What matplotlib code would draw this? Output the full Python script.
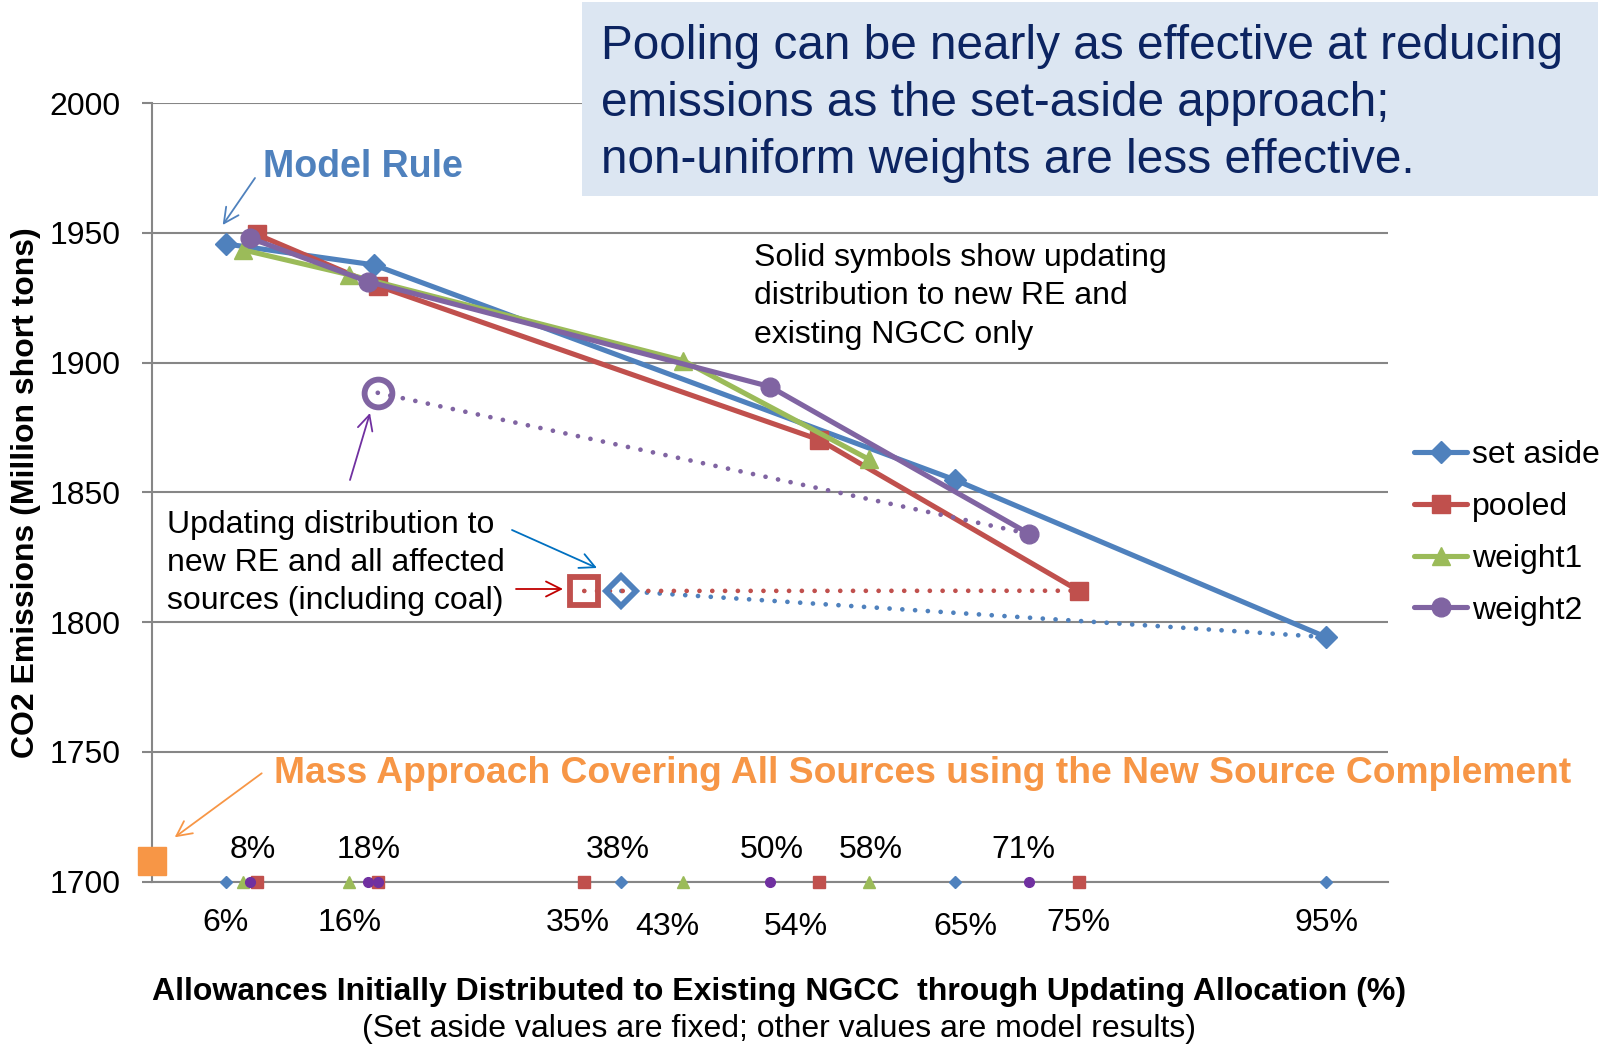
import matplotlib
matplotlib.use("Agg")
import matplotlib.pyplot as plt
import matplotlib.transforms as mtransforms
from matplotlib.patches import Rectangle

plt.rcParams["font.family"] = ["Liberation Sans", "DejaVu Sans"]

# allowances to existing NGCC (%) vs CO2 emissions (million short tons)
set_aside_x = [6, 18, 65, 95]
set_aside_y = [1945.8, 1937.7, 1854.8, 1794.2]
pooled_x = [8.5, 18.3, 54, 75]
pooled_y = [1949.5, 1929.6, 1870.3, 1812.1]
weight1_x = [7.4, 16, 43, 58]
weight1_y = [1943.5, 1933.9, 1900.8, 1862.8]
weight2_x = [8, 17.5, 50, 71]
weight2_y = [1948.0, 1931.3, 1890.8, 1834.0]

# updating to new RE and all affected sources (including coal)
set_aside_all_x, set_aside_all_y = 38, 1812.0
pooled_all_x, pooled_all_y = 35, 1812.0
weight2_all_x, weight2_all_y = 18.3, 1888.4

# mass approach covering all sources
mass_x, mass_y = 0, 1707.9

pct_top = [8, 18, 38, 50, 58, 71]
pct_bottom = [6, 16, 35, 43, 54, 65, 75, 95]
# small shifts so the labels don't sit on top of each other
pct_nudge = {18: -0.4, 35: -0.5, 43: -1.3, 54: -1.9, 65: 0.8, 71: -0.5, 38: -0.3}

BLUE, RED, GREEN, PURPLE = "#4f81bd", "#c0504d", "#9bbb59", "#8064a2"
GRID = "#868686"
ORANGE = "#f79646"

W, H = 1617, 1045


def fig_xy(x, y):
    return x / W, 1 - y / H


fig = plt.figure(figsize=(W / 100, H / 100), dpi=100)
ax = fig.add_axes([151.5 / W, 1 - 881.5 / H, (1388 - 151.5) / W, (881.5 - 103.3) / H])
ax.set_xlim(0, 100)
ax.set_ylim(1700, 2000)
ax.set_yticks(range(1700, 2001, 50))
ax.set_xticks([])
ax.yaxis.grid(True, color=GRID, lw=1.5)
ax.set_axisbelow(True)
for side in ("top", "right"):
    ax.spines[side].set_visible(False)
for side in ("left", "bottom"):
    ax.spines[side].set_color(GRID)
    ax.spines[side].set_linewidth(1.5)
ax.tick_params(axis="y", length=7, width=1.5, color=GRID, labelsize=23, pad=15)

series = [
    ("set aside", set_aside_x, set_aside_y, BLUE, "D", 11.5, 3),
    ("pooled", pooled_x, pooled_y, RED, "s", 13, 4),
    ("weight1", weight1_x, weight1_y, GREEN, "^", 13.5, 5),
    ("weight2", weight2_x, weight2_y, PURPLE, "o", 13.5, 6),
]
handles = []
for name, xs, ys, color, mk, ms, z in series:
    (ln,) = ax.plot(xs, ys, color=color, lw=3.7, marker=mk, ms=ms, mec=color,
                    mfc=color, label=name, zorder=z,
                    solid_joinstyle="round", solid_capstyle="round")
    handles.append(ln)

# dotted links from the all-sources runs to the matching solid run
dotted = [
    (set_aside_all_x, set_aside_all_y, set_aside_x[-1], set_aside_y[-1], BLUE, "D", 15.5),
    (pooled_all_x, pooled_all_y, pooled_x[-1], pooled_y[-1], RED, "s", 20),
    (weight2_all_x, weight2_all_y, weight2_x[-1], weight2_y[-1], PURPLE, "o", 20),
]
for x0, y0, x1, y1, color, mk, ms in dotted:
    ax.plot([x0, x1], [y0, y1], color=color, lw=3.4, dashes=[0.01, 2.7],
            dash_capstyle="round", zorder=7)
    ax.plot([x0], [y0], ls="none", marker=mk, ms=ms, mfc="none", mec=color,
            mew=4.2, zorder=8)

# strip of small markers along the 1700 line showing each run's x value
strip = [
    (set_aside_x + [set_aside_all_x], BLUE, "D", 6),
    (pooled_x + [pooled_all_x], RED, "s", 8.5),
    (weight1_x, GREEN, "^", 8),
    (weight2_x + [weight2_all_x], "#7030a0", "o", 7),
]
for i, (xs, color, mk, ms) in enumerate(strip):
    ax.plot(xs, [1700] * len(xs), ls="none", marker=mk, ms=ms, color=color,
            clip_on=False, zorder=10 + i)

ax.plot([mass_x], [mass_y], ls="none", marker="s", ms=20, color=ORANGE,
        clip_on=False, zorder=15)

# percent labels above and below the strip
trans = mtransforms.blended_transform_factory(ax.transData, fig.transFigure)
for p in pct_top:
    ax.text(p + pct_nudge.get(p, 0.2), 1 - 858 / H, f"{p}%", transform=trans,
            ha="center", va="baseline", fontsize=23)
for p in pct_bottom:
    low = 935 if p in (43, 54, 65) else 931
    ax.text(p + pct_nudge.get(p, 0), 1 - low / H, f"{p}%", transform=trans,
            ha="center", va="baseline", fontsize=23)

ax.legend(handles=handles, loc="center left", bbox_to_anchor=fig_xy(1414, 533),
          bbox_transform=fig.transFigure, frameon=False, fontsize=23,
          handlelength=1.66, handletextpad=0.15, labelspacing=0.68,
          borderpad=0, borderaxespad=0, numpoints=1)

# headline box
fig.patches.append(Rectangle(fig_xy(582, 196), (1598 - 582) / W, 194 / H,
                             transform=fig.transFigure, facecolor="#dce6f2",
                             edgecolor="none", zorder=20))
headline = ["Pooling can be nearly as effective at reducing",
            "emissions as the set-aside approach;",
            "non-uniform weights are less effective."]
for i, line in enumerate(headline):
    fig.text(*fig_xy(601, 59 + 57 * i), line, fontsize=34.4, color="#0c2461",
             va="baseline", zorder=21)

fig.text(*fig_xy(263, 177), "Model Rule", fontsize=27, fontweight="bold",
         color=BLUE, va="baseline")

note_solid = ["Solid symbols show updating", "distribution to new RE and",
              "existing NGCC only"]
for i, line in enumerate(note_solid):
    fig.text(*fig_xy(754, 266 + 38.5 * i), line, fontsize=23, va="baseline")

note_all = ["Updating distribution to", "new RE and all affected",
            "sources (including coal)"]
for i, line in enumerate(note_all):
    fig.text(*fig_xy(167, 533 + 38 * i), line, fontsize=23, va="baseline")

fig.text(*fig_xy(274, 783),
         "Mass Approach Covering All Sources using the New Source Complement",
         fontsize=26.8, fontweight="bold", color=ORANGE, va="baseline")

arrows = [
    ((255, 178), (222.7, 225), BLUE),
    ((350, 480), (370, 413), "#7030a0"),
    ((512, 530), (597, 568), "#0070c0"),
    ((516, 589), (563, 589), "#c00000"),
    ((261.7, 773.3), (174.7, 837.3), ORANGE),
]
for tail, head, color in arrows:
    ax.annotate("", xy=fig_xy(*head), xytext=fig_xy(*tail),
                xycoords="figure fraction", textcoords="figure fraction",
                arrowprops=dict(arrowstyle="->,head_length=0.6,head_width=0.3",
                                color=color, lw=1.3, shrinkA=0, shrinkB=0,
                                mutation_scale=18))

fig.text(*fig_xy(26, 493), "CO2 Emissions (Million short tons)", rotation=90,
         fontsize=23, fontweight="bold", ha="center", va="center")
fig.text(*fig_xy(779, 1000),
         "Allowances Initially Distributed to Existing NGCC  through Updating Allocation (%)",
         fontsize=23, fontweight="bold", ha="center", va="baseline")
fig.text(*fig_xy(779, 1037),
         "(Set aside values are fixed; other values are model results)",
         fontsize=23, ha="center", va="baseline")

fig.savefig("out.png", dpi=100)
